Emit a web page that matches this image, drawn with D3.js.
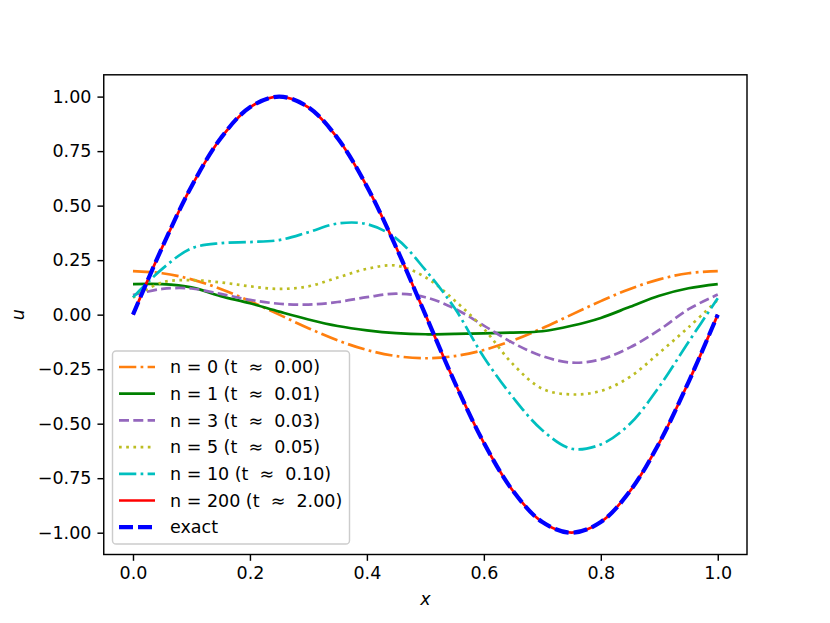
<!DOCTYPE html>
<html>
<head>
<meta charset="utf-8">
<script src="https://cdn.jsdelivr.net/npm/d3@7"></script>
<style>
  body { margin: 0; background: #fff; }
  #chart { width: 830px; height: 623px; }
  text { font-family: "DejaVu Sans", sans-serif; fill: #000; }
</style>
</head>
<body>
<div id="chart"></div>
<script>
// Grid of x positions shared by every series
const xValues = [0, 0.05, 0.1, 0.15, 0.2, 0.25, 0.3, 0.35, 0.4, 0.45, 0.5,
                 0.55, 0.6, 0.65, 0.7, 0.75, 0.8, 0.85, 0.9, 0.95, 1.0];

// Values
const n0 = [0.200, 0.190, 0.162, 0.118, 0.062, 0.000, -0.062, -0.118, -0.162, -0.190, -0.200,
            -0.190, -0.162, -0.118, -0.062, 0.000, 0.062, 0.118, 0.162, 0.190, 0.200];
const n1 = [0.140, 0.140, 0.125, 0.085, 0.052, 0.014, -0.022, -0.052, -0.072, -0.085, -0.090,
            -0.088, -0.086, -0.082, -0.076, -0.051, -0.015, 0.036, 0.087, 0.121, 0.140];
const n3 = [0.090, 0.118, 0.120, 0.095, 0.068, 0.050, 0.046, 0.058, 0.080, 0.096, 0.080,
            0.028, -0.050, -0.130, -0.190, -0.220, -0.205, -0.150, -0.070, 0.025, 0.092];
const n5 = [0.078, 0.148, 0.158, 0.148, 0.130, 0.118, 0.130, 0.170, 0.210, 0.225, 0.172,
            0.065, -0.065, -0.228, -0.340, -0.366, -0.350, -0.285, -0.175, -0.058, 0.068];
const n10 = [0.079, 0.210, 0.304, 0.328, 0.333, 0.342, 0.378, 0.418, 0.415, 0.350, 0.205,
             0.030, -0.195, -0.380, -0.530, -0.615, -0.595, -0.500, -0.330, -0.125, 0.075];
const n200 = [0.000, 0.309, 0.588, 0.809, 0.951, 1.000, 0.951, 0.809, 0.588, 0.309, 0.000,
              -0.309, -0.588, -0.809, -0.951, -1.000, -0.951, -0.809, -0.588, -0.309, 0.000];
const exact = [0.000, 0.309, 0.588, 0.809, 0.951, 1.000, 0.951, 0.809, 0.588, 0.309, 0.000,
               -0.309, -0.588, -0.809, -0.951, -1.000, -0.951, -0.809, -0.588, -0.309, 0.000];

const seriesLabels = ['n = 0 (t \u2248 0.00)', 'n = 1 (t \u2248 0.01)', 'n = 3 (t \u2248 0.03)',
                      'n = 5 (t \u2248 0.05)', 'n = 10 (t \u2248 0.10)', 'n = 200 (t \u2248 2.00)', 'exact'];
const seriesValues = [n0, n1, n3, n5, n10, n200, exact];

const xTicks = [0, 0.2, 0.4, 0.6, 0.8, 1.0];
const yTicks = [-1, -0.75, -0.5, -0.25, 0, 0.25, 0.5, 0.75, 1];

// Line styles (matplotlib-like)
const styles = [
    { color: '#ff7f0e', width: 2.7, dash: '17.3,4.3,2.7,4.3' },
    { color: '#008000', width: 2.7, dash: null },
    { color: '#9467bd', width: 2.7, dash: '10,4.3' },
    { color: '#bcbd22', width: 2.7, dash: '2.7,4.5' },
    { color: '#00bfbf', width: 2.7, dash: '17.3,4.3,2.7,4.3' },
    { color: '#ff0000', width: 2.7, dash: null },
    { color: '#0000ff', width: 4.2, dash: '14,5' }
];

const W = 830, H = 623;
const margin = { top: 74.8, right: 83, bottom: 68.5, left: 103.75 };
const width = W - margin.left - margin.right;
const height = H - margin.top - margin.bottom;

const svg = d3.select('#chart')
    .append('svg')
    .attr('width', W)
    .attr('height', H);

const g = svg.append('g')
    .attr('transform', `translate(${margin.left},${margin.top})`);

const xScale = d3.scaleLinear().domain([-0.05, 1.05]).range([0, width]);
const yScale = d3.scaleLinear().domain([-1.1, 1.1]).range([height, 0]);

const line = d3.line()
    .x((d, i) => xScale(xValues[i]))
    .y(d => yScale(d))
    .curve(d3.curveCatmullRom.alpha(0.5));

g.append('defs').append('clipPath').attr('id', 'clip')
    .append('rect').attr('width', width).attr('height', height);

const plot = g.append('g').attr('clip-path', 'url(#clip)');

seriesValues.forEach((vals, i) => {
    plot.append('path')
        .datum(vals)
        .attr('d', line)
        .attr('fill', 'none')
        .attr('stroke', styles[i].color)
        .attr('stroke-width', styles[i].width)
        .attr('stroke-dasharray', styles[i].dash)
        .attr('stroke-linecap', 'butt');
});

// Axes
const xAxis = d3.axisBottom(xScale).tickValues(xTicks).tickFormat(d3.format('.1f'))
    .tickSizeOuter(0).tickSize(6.3).tickPadding(6);
const yAxis = d3.axisLeft(yScale).tickValues(yTicks)
    .tickFormat(d => d3.format('.2f')(d).replace('-', '\u2212'))
    .tickSizeOuter(0).tickSize(6.3).tickPadding(6);

const gx = g.append('g').attr('transform', `translate(0,${height})`).call(xAxis);
const gy = g.append('g').call(yAxis);
[gx, gy].forEach(a => {
    a.select('.domain').remove();
    a.selectAll('line').attr('stroke', '#000').attr('stroke-width', 1.44);
    a.selectAll('text').attr('font-size', 17.5).attr('font-family', '"DejaVu Sans", sans-serif');
});

// Frame
g.append('rect')
    .attr('width', width).attr('height', height)
    .attr('fill', 'none').attr('stroke', '#000').attr('stroke-width', 1.44);

// Axis labels
svg.append('text')
    .attr('x', margin.left + width / 2).attr('y', 605)
    .attr('text-anchor', 'middle').attr('font-size', 17.5).attr('font-style', 'italic')
    .text('x');
svg.append('text')
    .attr('transform', `translate(24,${margin.top + height / 2}) rotate(-90)`)
    .attr('text-anchor', 'middle').attr('font-size', 17.5).attr('font-style', 'italic')
    .text('u');

// Legend
const legend = svg.append('g');
const lx = 112.5, ly = 351, rowH = 26.7;
legend.append('rect')
    .attr('x', lx).attr('y', ly).attr('width', 237).attr('height', 193)
    .attr('rx', 3.6).attr('ry', 3.6)
    .attr('fill', '#fff').attr('fill-opacity', 0.8)
    .attr('stroke', '#cccccc').attr('stroke-width', 1.44);

seriesLabels.forEach((lab, i) => {
    const cy = ly + 16 + i * rowH;
    legend.append('line')
        .attr('x1', lx + 6.5).attr('x2', lx + 42.5)
        .attr('y1', cy).attr('y2', cy)
        .attr('stroke', styles[i].color)
        .attr('stroke-width', styles[i].width)
        .attr('stroke-dasharray', styles[i].dash);
    legend.append('text')
        .attr('x', lx + 57.5).attr('y', cy).attr('dy', '0.35em')
        .attr('font-size', 17.5)
        .attr('xml:space', 'preserve')
        .text(lab.replace('\u2248', ' \u2248 '));
});
</script>
</body>
</html>
